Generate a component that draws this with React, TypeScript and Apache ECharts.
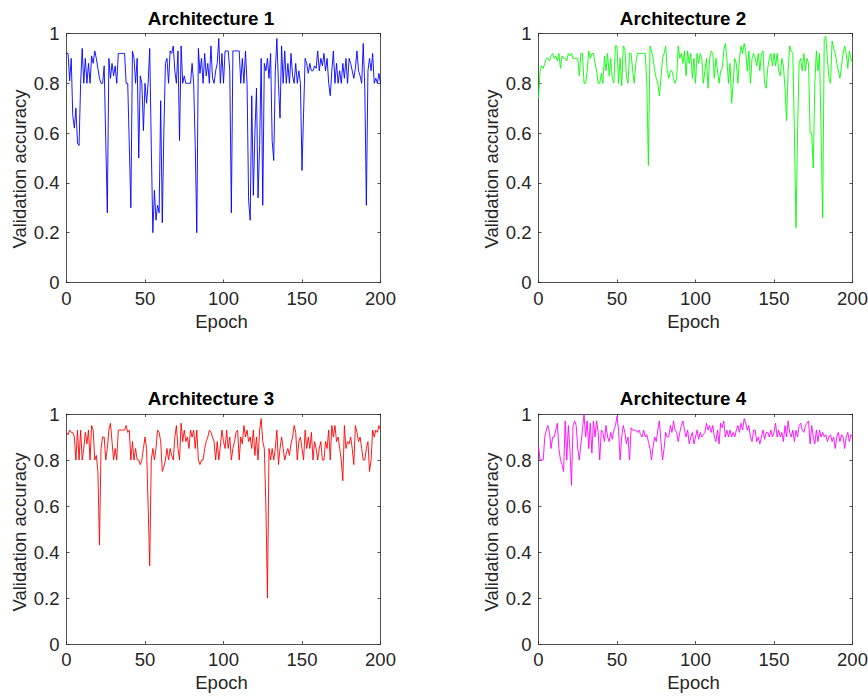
import React, { useEffect, useRef } from "react";
import * as echarts from "echarts";

// ---------- data ----------
const epochs: number[] = Array.from({ length: 201 }, (_, i) => i);

const arch1: number[] = [
  0.92, 0.92, 0.81, 0.9, 0.67, 0.62, 0.7, 0.56, 0.55, 0.8,
  0.94, 0.8, 0.9, 0.8, 0.88, 0.8, 0.91, 0.88, 0.93, 0.9,
  0.86, 0.82, 0.8, 0.8, 0.87, 0.57, 0.28, 0.9, 0.82, 0.88,
  0.83, 0.87, 0.8, 0.92, 0.92, 0.92, 0.92, 0.92, 0.8, 0.8,
  0.55, 0.3, 0.93, 0.9, 0.8, 0.9, 0.5, 0.83, 0.8, 0.61,
  0.8, 0.72, 0.8, 0.94, 0.55, 0.2, 0.37, 0.25, 0.31, 0.28,
  0.73, 0.24, 0.6, 0.88, 0.9, 0.8, 0.93, 0.92, 0.95, 0.85,
  0.8, 0.93, 0.57, 0.95, 0.8, 0.83, 0.8, 0.8, 0.8, 0.8,
  0.88, 0.8, 0.55, 0.2, 0.94, 0.84, 0.9, 0.8, 0.92, 0.83,
  0.88, 0.8, 0.95, 0.82, 0.8, 0.85, 0.88, 0.98, 0.8, 0.92,
  0.8, 0.93, 0.93, 0.93, 0.85, 0.28, 0.93, 0.93, 0.93, 0.93,
  0.93, 0.8, 0.9, 0.8, 0.93, 0.8, 0.33, 0.25, 0.75, 0.35,
  0.6, 0.78, 0.34, 0.55, 0.9, 0.31, 0.88, 0.85, 0.9, 0.82,
  0.92, 0.57, 0.49, 0.85, 0.98, 0.8, 0.66, 0.95, 0.8, 0.93,
  0.8, 0.88, 0.8, 0.92, 0.83, 0.8, 0.88, 0.8, 0.85, 0.8,
  0.45, 0.68, 0.9, 0.88, 0.84, 0.88, 0.85, 0.85, 0.87, 0.86,
  0.93, 0.85, 0.9, 0.87, 0.92, 0.85, 0.9, 0.8, 0.75, 0.85,
  0.93, 0.8, 0.88, 0.8, 0.85, 0.8, 0.88, 0.82, 0.9, 0.8,
  0.9, 0.88, 0.85, 0.82, 0.86, 0.93, 0.85, 0.83, 0.8, 0.96,
  0.78, 0.31, 0.85, 0.9, 0.85, 0.92, 0.8, 0.82, 0.8, 0.84,
  0.8,
];

const arch2: number[] = [
  0.74, 0.85, 0.87, 0.86, 0.88, 0.9, 0.9, 0.89, 0.91, 0.92,
  0.9, 0.91, 0.89, 0.92, 0.86, 0.91, 0.9, 0.9, 0.89, 0.92,
  0.91, 0.92, 0.9, 0.9, 0.9, 0.9, 0.83, 0.92, 0.92, 0.8,
  0.8, 0.85, 0.93, 0.9, 0.92, 0.92, 0.88, 0.85, 0.8, 0.8,
  0.84, 0.8, 0.91, 0.85, 0.92, 0.83, 0.9, 0.82, 0.8, 0.95,
  0.95, 0.8, 0.9, 0.79, 0.95, 0.94, 0.83, 0.8, 0.92, 0.92,
  0.85, 0.8, 0.88, 0.92, 0.92, 0.92, 0.92, 0.92, 0.92, 0.8,
  0.47, 0.95, 0.93, 0.9, 0.85, 0.82, 0.8, 0.75, 0.82, 0.9,
  0.92, 0.95, 0.85, 0.82, 0.85, 0.85, 0.82, 0.8, 0.82, 0.95,
  0.9, 0.92, 0.88, 0.93, 0.83, 0.93, 0.88, 0.92, 0.82, 0.9,
  0.8, 0.92, 0.88, 0.92, 0.9, 0.8, 0.85, 0.9, 0.78, 0.9,
  0.93, 0.92, 0.82, 0.9, 0.85, 0.8, 0.85, 0.86, 0.93, 0.96,
  0.9, 0.8, 0.88, 0.72, 0.8, 0.9, 0.88, 0.8, 0.9, 0.95,
  0.92, 0.96, 0.93, 0.85, 0.93, 0.8, 0.9, 0.92, 0.9, 0.87,
  0.92, 0.85, 0.92, 0.93, 0.8, 0.78, 0.86, 0.9, 0.92, 0.87,
  0.92, 0.87, 0.92, 0.85, 0.83, 0.9, 0.87, 0.78, 0.65, 0.85,
  0.95, 0.93, 0.92, 0.6, 0.22, 0.6, 0.88, 0.9, 0.85, 0.92,
  0.85, 0.9, 0.88, 0.6, 0.6, 0.46, 0.8, 0.93, 0.85, 0.92,
  0.6, 0.26, 0.98, 0.99, 0.9, 0.82, 0.8, 0.97, 0.94, 0.92,
  0.88, 0.85, 0.82, 0.87, 0.92, 0.95, 0.92, 0.86, 0.93, 0.9,
  0.88,
];

const arch3: number[] = [
  0.92, 0.91, 0.93, 0.92, 0.92, 0.9, 0.8, 0.93, 0.8, 0.93,
  0.8, 0.85, 0.92, 0.87, 0.93, 0.8, 0.95, 0.93, 0.8, 0.82,
  0.75, 0.43, 0.85, 0.9, 0.9, 0.8, 0.85, 0.93, 0.96, 0.88,
  0.8, 0.85, 0.8, 0.93, 0.93, 0.93, 0.93, 0.93, 0.95, 0.92,
  0.93, 0.8, 0.88, 0.8, 0.85, 0.8, 0.8, 0.78, 0.8, 0.85,
  0.9, 0.85, 0.6, 0.34, 0.8, 0.85, 0.8, 0.85, 0.93, 0.92,
  0.88, 0.75, 0.77, 0.8, 0.85, 0.8, 0.85, 0.82, 0.8, 0.9,
  0.95, 0.85, 0.8, 0.96, 0.88, 0.93, 0.88, 0.9, 0.85, 0.93,
  0.9, 0.93, 0.85, 0.93, 0.8, 0.78, 0.8, 0.8, 0.85, 0.88,
  0.9, 0.93, 0.92, 0.9, 0.88, 0.8, 0.88, 0.8, 0.86, 0.93,
  0.88, 0.85, 0.93, 0.85, 0.9, 0.8, 0.85, 0.88, 0.92, 0.93,
  0.8, 0.9, 0.87, 0.95, 0.9, 0.93, 0.88, 0.9, 0.85, 0.93,
  0.82, 0.9, 0.8, 0.93, 0.98, 0.88, 0.85, 0.6, 0.2, 0.85,
  0.8, 0.85, 0.8, 0.85, 0.93, 0.78, 0.85, 0.9, 0.85, 0.8,
  0.83, 0.85, 0.82, 0.87, 0.9, 0.95, 0.92, 0.8, 0.88, 0.9,
  0.85, 0.8, 0.93, 0.85, 0.9, 0.85, 0.92, 0.8, 0.88, 0.85,
  0.8, 0.85, 0.88, 0.8, 0.8, 0.88, 0.85, 0.93, 0.8, 0.95,
  0.9, 0.95, 0.88, 0.9, 0.85, 0.8, 0.71, 0.95, 0.85, 0.88,
  0.87, 0.9, 0.85, 0.78, 0.95, 0.92, 0.88, 0.9, 0.85, 0.8,
  0.8, 0.85, 0.88, 0.75, 0.8, 0.93, 0.9, 0.93, 0.92, 0.95,
  0.93,
];

const arch4: number[] = [
  0.86, 0.8, 0.8, 0.8, 0.9, 0.93, 0.95, 0.92, 0.85, 0.9,
  0.9, 0.93, 0.96, 0.85, 0.8, 0.78, 0.75, 0.97, 0.8, 0.95,
  0.85, 0.69, 0.95, 0.97, 0.95, 0.85, 0.8, 0.87, 0.93, 1.0,
  0.9, 0.97, 0.85, 0.96, 0.83, 0.97, 0.9, 0.97, 0.92, 0.8,
  0.93, 0.92, 0.88, 0.95, 0.9, 0.88, 0.92, 0.89, 0.93, 0.95,
  0.99, 0.93, 0.8, 0.9, 0.95, 0.92, 0.87, 0.9, 0.8, 0.94,
  0.93, 0.93, 0.93, 0.92, 0.93, 0.91, 0.9, 0.93, 0.9, 0.91,
  0.88, 0.85, 0.8, 0.86, 0.9, 0.88, 0.93, 0.97, 0.88, 0.8,
  0.85, 0.92, 0.9, 0.9, 0.95, 0.92, 0.97, 0.93, 0.92, 0.88,
  0.92, 0.95, 0.97, 0.93, 0.9, 0.93, 0.87, 0.9, 0.92, 0.87,
  0.9, 0.93, 0.89, 0.92, 0.9, 0.91, 0.92, 0.96, 0.93, 0.95,
  0.92, 0.95, 0.9, 0.88, 0.93, 0.87, 0.96, 0.94, 0.97, 0.9,
  0.93, 0.9, 0.93, 0.9, 0.92, 0.9, 0.93, 0.95, 0.92, 0.96,
  0.93, 0.98, 0.96, 0.93, 0.95, 0.9, 0.88, 0.93, 0.93, 0.88,
  0.9, 0.87, 0.9, 0.93, 0.89, 0.92, 0.92, 0.9, 0.93, 0.9,
  0.92, 0.96, 0.9, 0.93, 0.9, 0.92, 0.88, 0.95, 0.9, 0.97,
  0.92, 0.9, 0.93, 0.88, 0.93, 0.9, 0.95, 0.96, 0.93, 0.92,
  0.95, 0.96, 0.97, 0.87, 0.95, 0.9, 0.87, 0.93, 0.88, 0.93,
  0.9, 0.92, 0.9, 0.91, 0.88, 0.9, 0.91, 0.88, 0.9, 0.85,
  0.9, 0.92, 0.88, 0.91, 0.9, 0.85, 0.9, 0.92, 0.88, 0.91,
  0.9,
];

const titles: string[] = ["Architecture 1", "Architecture 2", "Architecture 3", "Architecture 4"];
const lineColors: string[] = ["#0000ff", "#00ff00", "#ff0000", "#ff00ff"];
const xTicks: number[] = [0, 50, 100, 150, 200];
const yTicks: number[] = [0, 0.2, 0.4, 0.6, 0.8, 1];
const xAxisLabel = "Epoch";
const yAxisLabel = "Validation accuracy";

// ---------- layout ----------
const FONT = "'Liberation Sans', Arial, Helvetica, sans-serif";
const AXIS_COLOR = "#262626";
const FS = 18.5;
const panels = [
  { left: 66.5, top: 33.5, width: 314, height: 249 },
  { left: 538.5, top: 33.5, width: 314, height: 249 },
  { left: 66.5, top: 414, width: 314, height: 230 },
  { left: 538.5, top: 414, width: 314, height: 230 },
];

function buildOption() {
  const seriesData = [arch1, arch2, arch3, arch4];
  const grid: any[] = [];
  const xAxis: any[] = [];
  const yAxis: any[] = [];
  const series: any[] = [];
  const graphic: any[] = [];
  const xMin = xTicks[0];
  const xMax = xTicks[xTicks.length - 1];
  const xInt = xTicks[1] - xTicks[0];
  const yMin = yTicks[0];
  const yMax = yTicks[yTicks.length - 1];
  const yInt = yTicks[1] - yTicks[0];

  const axisLine = { show: true, onZero: false, lineStyle: { color: AXIS_COLOR, width: 0.8 } };
  const axisTick = { show: true, inside: true, length: 3, lineStyle: { color: AXIS_COLOR, width: 0.8 } };

  panels.forEach((p, i) => {
    grid.push({
      left: p.left,
      top: p.top,
      width: p.width,
      height: p.height,
      containLabel: false,
      outerBoundsMode: "none",
      show: false,
    });
    // bottom x axis with labels
    xAxis.push({
      type: "value",
      gridIndex: i,
      position: "bottom",
      min: xMin,
      max: xMax,
      interval: xInt,
      axisLine,
      axisTick,
      splitLine: { show: false },
      axisLabel: {
        show: true,
        color: AXIS_COLOR,
        fontFamily: FONT,
        fontSize: FS,
        margin: 6,
        formatter: (v: number) => String(v),
      },
    });
    // top mirror axis
    xAxis.push({
      type: "value",
      gridIndex: i,
      position: "top",
      min: xMin,
      max: xMax,
      interval: xInt,
      axisLine,
      axisTick,
      splitLine: { show: false },
      axisLabel: { show: false },
    });
    // left y axis with labels
    yAxis.push({
      type: "value",
      gridIndex: i,
      position: "left",
      min: yMin,
      max: yMax,
      interval: yInt,
      axisLine,
      axisTick,
      splitLine: { show: false },
      axisLabel: {
        show: true,
        color: AXIS_COLOR,
        fontFamily: FONT,
        fontSize: FS,
        margin: 7,
        formatter: (v: number) => {
          const r = Math.round(v * 10) / 10;
          return r === 0 ? "0" : r === 1 ? "1" : r.toFixed(1);
        },
      },
    });
    // right mirror axis
    yAxis.push({
      type: "value",
      gridIndex: i,
      position: "right",
      min: yMin,
      max: yMax,
      interval: yInt,
      axisLine,
      axisTick,
      splitLine: { show: false },
      axisLabel: { show: false },
    });

    series.push({
      type: "line",
      xAxisIndex: i * 2,
      yAxisIndex: i * 2,
      data: epochs.map((e, k) => [e, seriesData[i][k]]),
      showSymbol: false,
      symbol: "none",
      lineStyle: { color: lineColors[i], width: 0.9 },
      itemStyle: { color: lineColors[i] },
      silent: true,
    });

    const cx = p.left + p.width / 2;
    const bottom = p.top + p.height;
    // title
    graphic.push({
      type: "text",
      x: cx - 12.5,
      y: p.top - 15.5,
      style: {
        text: titles[i],
        fill: "#000000",
        font: `bold 18.8px ${FONT}`,
        align: "center",
        verticalAlign: "middle",
        textAlign: "center",
        textVerticalAlign: "middle",
      },
    });
    // x axis label
    graphic.push({
      type: "text",
      x: cx - 2,
      y: bottom + 38.5,
      style: {
        text: xAxisLabel,
        fill: AXIS_COLOR,
        font: `${FS}px ${FONT}`,
        align: "center",
        verticalAlign: "middle",
        textAlign: "center",
        textVerticalAlign: "middle",
      },
    });
    // y axis label
    graphic.push({
      type: "text",
      x: p.left - 47.5,
      y: i < 2 ? 169 : 532,
      rotation: Math.PI / 2,
      style: {
        text: yAxisLabel,
        fill: AXIS_COLOR,
        font: `${FS}px ${FONT}`,
        align: "center",
        verticalAlign: "middle",
        textAlign: "center",
        textVerticalAlign: "middle",
      },
    });
  });

  return {
    animation: false,
    backgroundColor: "#ffffff",
    grid,
    xAxis,
    yAxis,
    series,
    graphic,
  };
}

export default function App() {
  const ref = useRef<HTMLDivElement>(null);
  useEffect(() => {
    document.body.style.margin = "0";
    if (!ref.current) return;
    const chart = echarts.init(ref.current, undefined, { renderer: "svg" });
    chart.setOption(buildOption() as any);
    return () => {
      chart.dispose();
    };
  }, []);
  return <div ref={ref} style={{ width: 868, height: 696, background: "#ffffff" }} />;
}
